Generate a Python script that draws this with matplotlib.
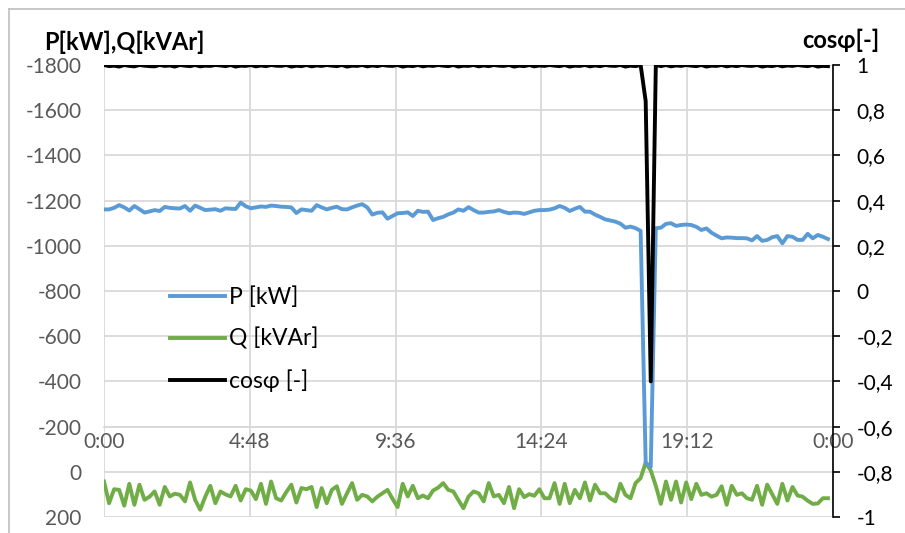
import numpy as np
import matplotlib.pyplot as plt
from matplotlib.lines import Line2D

plt.rcParams['font.family'] = ['Lato', 'DejaVu Sans']

# 10-minute samples over one day
hours = np.arange(144) * 10 / 60

P = [-1161, -1161, -1168, -1180, -1170, -1156, -1176, -1162, -1147, -1152,
     -1158, -1154, -1172, -1168, -1166, -1165, -1176, -1155, -1178, -1168,
     -1158, -1160, -1162, -1155, -1166, -1164, -1163, -1191, -1175, -1166,
     -1170, -1174, -1172, -1178, -1176, -1173, -1172, -1170, -1145, -1161,
     -1158, -1155, -1180, -1170, -1161, -1168, -1173, -1162, -1161, -1170,
     -1178, -1184, -1170, -1138, -1146, -1148, -1120, -1132, -1144, -1145,
     -1148, -1132, -1155, -1150, -1151, -1114, -1122, -1128, -1139, -1147,
     -1161, -1155, -1171, -1158, -1147, -1147, -1150, -1152, -1158, -1150,
     -1144, -1147, -1146, -1141, -1148, -1155, -1158, -1158, -1160, -1166,
     -1176, -1168, -1154, -1164, -1172, -1151, -1151, -1138, -1128, -1117,
     -1112, -1107, -1098, -1080, -1085, -1078, -1066, -40, -22, -1078,
     -1080, -1097, -1100, -1088, -1092, -1094, -1092, -1084, -1070, -1077,
     -1058, -1045, -1033, -1037, -1036, -1034, -1034, -1033, -1024, -1043,
     -1022, -1026, -1038, -1043, -1011, -1043, -1040, -1026, -1026, -1053,
     -1033, -1048, -1040, -1030]

Q = [43, 139, 77, 80, 150, 53, 146, 57, 124, 110,
     87, 146, 67, 109, 97, 102, 131, 47, 124, 168,
     110, 62, 139, 87, 100, 109, 62, 127, 77, 83,
     121, 53, 142, 43, 117, 127, 90, 57, 136, 72,
     77, 67, 156, 72, 139, 80, 64, 142, 95, 50,
     124, 102, 109, 131, 110, 95, 80, 120, 156, 53,
     109, 62, 117, 105, 117, 83, 70, 50, 80, 87,
     125, 161, 110, 87, 95, 131, 50, 109, 102, 139,
     67, 161, 77, 112, 99, 106, 77, 117, 117, 50,
     142, 53, 139, 80, 117, 47, 127, 57, 95, 95,
     117, 131, 53, 102, 117, 50, 28, -41, -6, 62,
     142, 43, 124, 43, 136, 47, 121, 53, 102, 95,
     110, 102, 64, 146, 62, 102, 95, 117, 124, 62,
     146, 57, 100, 142, 53, 127, 67, 105, 110, 128,
     142, 140, 117, 117]

cosphi = [1.0, 0.995, 0.997, 0.993, 1.0, 0.996, 0.994, 1.0, 0.997, 0.995,
          0.994, 1.0, 0.996, 0.998, 0.993, 1.0, 0.997, 0.995, 1.0, 0.994,
          0.997, 0.996, 1.0, 0.998, 0.995, 1.0, 0.993, 0.997, 0.996, 1.0,
          0.994, 0.998, 0.995, 1.0, 0.997, 0.996, 1.0, 0.993, 0.997, 0.995,
          1.0, 0.994, 0.998, 0.996, 1.0, 0.997, 0.995, 1.0, 0.993, 0.997,
          0.996, 1.0, 0.994, 0.998, 0.995, 1.0, 0.997, 0.996, 1.0, 0.993,
          0.997, 0.995, 1.0, 0.994, 0.998, 0.996, 1.0, 0.997, 0.995, 1.0,
          0.993, 0.997, 0.996, 1.0, 0.994, 0.998, 0.995, 1.0, 0.997, 0.996,
          1.0, 0.993, 0.997, 0.995, 1.0, 0.994, 0.998, 0.996, 1.0, 0.997,
          0.995, 1.0, 0.993, 0.997, 0.996, 1.0, 0.994, 0.998, 0.995, 1.0,
          0.997, 0.996, 1.0, 0.993, 0.997, 0.995, 1.0, 0.84, -0.40, 1.0,
          0.995, 1.0, 0.994, 0.998, 0.996, 1.0, 0.997, 0.995, 1.0, 0.993,
          0.997, 0.996, 1.0, 0.994, 0.998, 0.995, 1.0, 0.997, 0.996, 1.0,
          0.993, 0.997, 0.995, 1.0, 0.994, 0.998, 0.996, 1.0, 0.997, 0.995,
          1.0, 0.993, 0.996, 0.995]

x_ticks = [0, 4.8, 9.6, 14.4, 19.2, 24]
x_labels = ['0:00', '4:48', '9:36', '14:24', '19:12', '0:00']
left_ticks = [-1800, -1600, -1400, -1200, -1000, -800, -600, -400, -200, 0, 200]
right_ticks = [1, 0.8, 0.6, 0.4, 0.2, 0, -0.2, -0.4, -0.6, -0.8, -1]
right_labels = ['1', '0,8', '0,6', '0,4', '0,2', '0', '-0,2', '-0,4', '-0,6', '-0,8', '-1']

grid_c = '#d9d9d9'
text_c = '#595959'
fs = 15

fig = plt.figure(figsize=(9.05, 5.33), dpi=100)
ax = fig.add_axes([104/905, 1 - 517/533, (833 - 104)/905, (517 - 65)/533])

lp, = ax.plot(hours, P, color='#5b9bd5', lw=2.8, label='P [kW]', zorder=3)
lq, = ax.plot(hours, Q, color='#70ad47', lw=2.8, label='Q [kVAr]', zorder=2)
ax.set_xlim(0, 24)
ax.set_ylim(200, -1800)
ax.set_xticks(x_ticks)
ax.set_xticklabels(x_labels)
ax.set_yticks(left_ticks)
ax.set_yticklabels([str(v) for v in left_ticks])
ax.grid(color=grid_c, lw=1.3)
ax.set_axisbelow(True)
ax.tick_params(axis='x', length=0, pad=4, labelsize=fs, labelcolor=text_c)
ax.tick_params(axis='y', length=0, pad=16, labelsize=fs, labelcolor=text_c)
for s in ['top', 'right', 'left']:
    ax.spines[s].set_visible(False)
# horizontal axis crosses at -200
ax.spines['bottom'].set_position(('data', -200))
ax.spines['bottom'].set_color(grid_c)
ax.spines['bottom'].set_linewidth(1.3)

ax2 = ax.twinx()
lc, = ax2.plot(hours, cosphi, color='black', lw=2.8, label='cosφ [-]', zorder=4)
ax2.set_ylim(-1, 1)
ax2.set_yticks(right_ticks)
ax2.set_yticklabels(right_labels, ha='left')
ax2.tick_params(axis='y', direction='out', length=5, width=1.2, pad=12,
                labelsize=fs, labelcolor='black')
for s in ['top', 'left', 'bottom']:
    ax2.spines[s].set_visible(False)
ax2.spines['right'].set_linewidth(1.2)

ax2.legend([lp, lq, lc], ['P [kW]', 'Q [kVAr]', 'cosφ [-]'],
           loc='upper left', bbox_to_anchor=(0.09, 0.51), frameon=False,
           fontsize=16.5, handlelength=2.4, handletextpad=0.2,
           labelspacing=0.85, borderpad=0, borderaxespad=0)

fig.text(44/905, 1 - 42/533, 'P[kW],Q[kVAr]', fontsize=17, fontweight='bold',
         ha='left', va='center')
fig.text(879/905, 1 - 40/533, 'cosφ[-]', fontsize=17, fontweight='bold',
         ha='right', va='center')

# chart area frame
fig.add_artist(Line2D([8.5/905, 8.5/905], [0, 1 - 9/533], color='#bfbfbf', lw=1.2,
                      transform=fig.transFigure))
fig.add_artist(Line2D([8.5/905, 1], [1 - 9/533, 1 - 9/533], color='#bfbfbf', lw=1.2,
                      transform=fig.transFigure))

fig.savefig('out.png', dpi=100)
